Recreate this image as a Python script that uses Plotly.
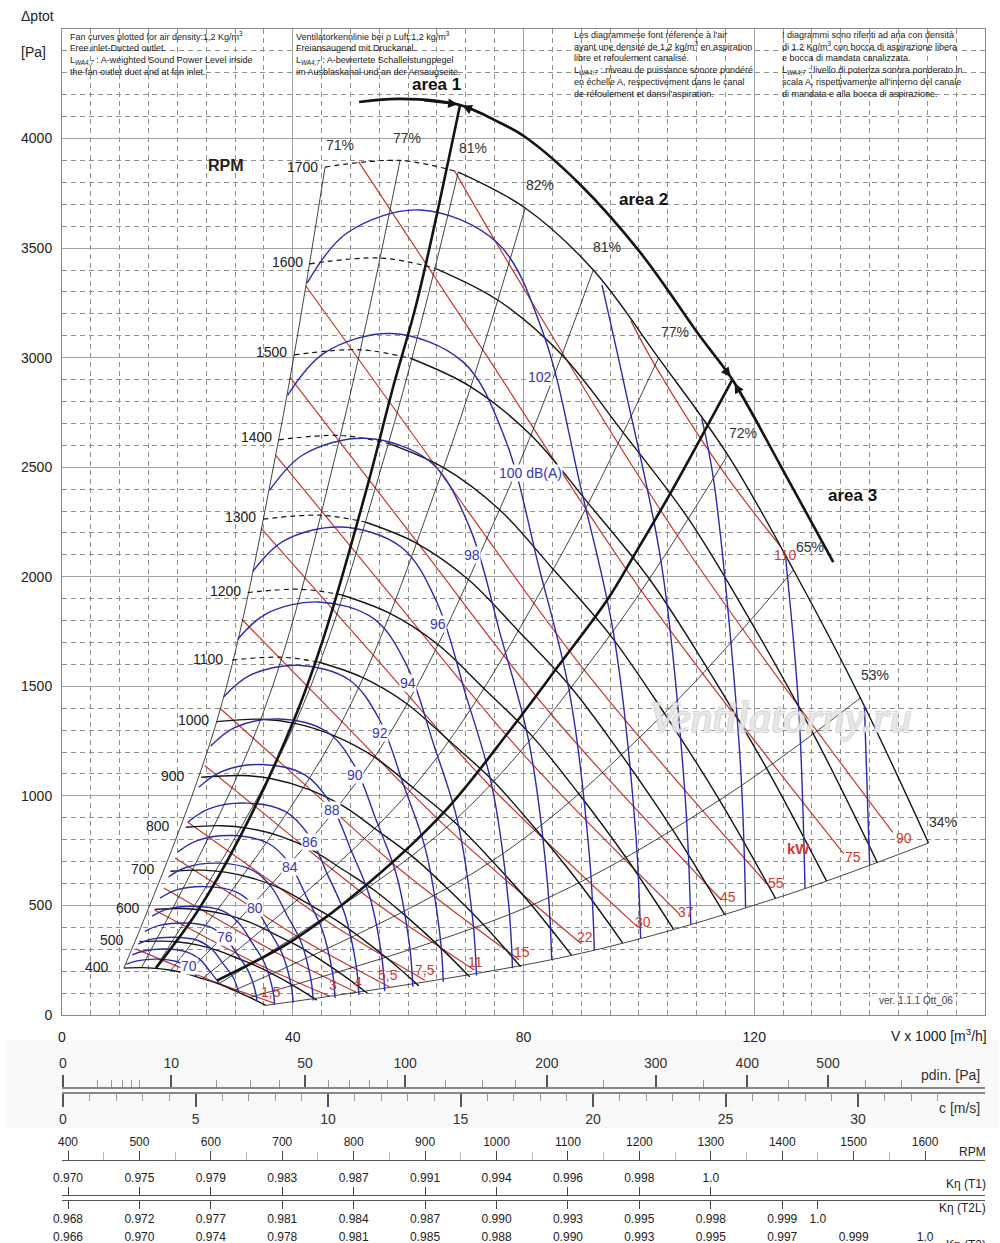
import plotly.graph_objects as go

# ---------------------------------------------------------------
# fan speed curves  (V in 1000 m3/h, dp tot in Pa)
rpm_speeds = [400, 500, 600, 700, 800, 900, 1000, 1100, 1200, 1300, 1400, 1500, 1600, 1700]
rpm_x = [
    [10.73, 13.79, 16.16, 18.89, 21.67, 24.33, 27.15, 29.84, 32.56, 35.34],
    [13.41, 17.23, 20.20, 23.62, 27.09, 30.41, 33.94, 37.29, 40.70, 44.17],
    [16.09, 20.68, 24.24, 28.34, 32.50, 36.49, 40.72, 44.75, 48.84, 53.00],
    [18.78, 24.13, 28.29, 33.07, 37.93, 42.58, 47.52, 52.22, 56.99, 61.85],
    [21.46, 27.58, 32.33, 37.79, 43.34, 48.66, 54.31, 59.67, 65.13, 70.68],
    [24.14, 31.02, 36.37, 42.51, 48.76, 54.74, 61.09, 67.13, 73.27, 79.52],
    [26.82, 34.47, 40.41, 47.23, 54.17, 60.82, 67.88, 74.58, 81.41, 88.35],
    [29.51, 37.92, 44.45, 51.96, 59.60, 66.91, 74.67, 82.05, 89.56, 97.19],
    [32.19, 41.37, 48.50, 56.68, 65.01, 72.99, 81.46, 89.51, 97.70, 106.02],
    [34.87, 44.81, 52.53, 61.41, 70.43, 79.07, 88.25, 96.96, 105.84, 114.86],
    [37.55, 48.26, 56.58, 66.13, 75.85, 85.15, 95.03, 104.42, 113.98, 123.69],
    [40.24, 51.71, 60.62, 70.86, 81.27, 91.24, 101.83, 111.89, 122.12, 132.54],
    [42.92, 55.15, 64.66, 75.58, 86.68, 97.32, 108.61, 119.34, 130.26, 141.36],
    [45.60, 58.60, 68.70, 80.30, 92.10, 103.40, 115.40, 126.80, 138.40, 150.20],
]
rpm_y = [
    [214, 216, 213, 204, 188, 166, 142, 112, 80, 44],
    [335, 337, 333, 319, 294, 259, 221, 176, 125, 68],
    [482, 486, 479, 459, 424, 374, 318, 253, 180, 98],
    [656, 661, 652, 624, 577, 509, 433, 344, 245, 133],
    [857, 864, 852, 816, 753, 664, 566, 450, 320, 174],
    [1085, 1093, 1078, 1032, 953, 841, 716, 569, 406, 220],
    [1339, 1350, 1331, 1274, 1177, 1038, 884, 703, 501, 272],
    [1620, 1633, 1611, 1542, 1424, 1256, 1070, 850, 606, 329],
    [1928, 1943, 1917, 1835, 1694, 1494, 1274, 1012, 721, 391],
    [2263, 2281, 2250, 2154, 1988, 1754, 1495, 1188, 846, 459],
    [2625, 2645, 2609, 2498, 2306, 2034, 1734, 1377, 981, 532],
    [3013, 3036, 2995, 2867, 2647, 2335, 1990, 1581, 1127, 611],
    [3428, 3455, 3408, 3262, 3012, 2657, 2264, 1799, 1282, 695],
    [3870, 3900, 3847, 3683, 3400, 2999, 2556, 2031, 1447, 785],
]
rpm_label_x = [6.07, 8.67, 11.45, 14.05, 16.65, 19.25, 22.72, 25.33, 28.27, 30.88, 33.65, 36.25, 39.03, 41.63]
rpm_label_y = [219, 342, 488, 666, 862, 1090, 1346, 1624, 1935, 2273, 2638, 3026, 3437, 3870]

# efficiency lines
eff_labels = ["71%", "77%", "81%", "82%", "81%", "77%", "72%", "65%", "53%", "34%"]
eff_x = [
    [10.73, 26.82, 37.55, 45.6],
    [13.79, 34.47, 48.26, 58.6],
    [16.16, 40.41, 56.58, 68.7],
    [18.89, 47.23, 66.13, 80.3],
    [21.67, 54.17, 75.85, 92.1],
    [24.33, 60.82, 85.15, 103.4],
    [27.15, 67.88, 95.03, 115.4],
    [29.84, 74.58, 104.42, 126.8],
    [32.56, 81.41, 113.98, 138.4],
    [35.34, 88.35, 123.69, 150.2],
]
eff_y = [
    [214, 1339, 2625, 3870],
    [216, 1350, 2645, 3900],
    [213, 1331, 2609, 3847],
    [204, 1274, 2498, 3683],
    [188, 1177, 2306, 3400],
    [166, 1038, 2034, 2999],
    [142, 884, 1734, 2556],
    [112, 703, 1377, 2031],
    [80, 501, 981, 1447],
    [44, 272, 532, 785],
]
eff_label_x = [48.2, 59.8, 71.3, 82.9, 94.5, 106.3, 118.0, 129.7, 141.0, 152.8]
eff_label_y = [3971, 4003, 3957, 3788, 3505, 3117, 2656, 2136, 1552, 881]

# sound power level curves, dB(A)
db_levels = [70, 72, 74, 76, 78, 80, 82, 84, 86, 88, 90, 92, 94, 96, 98, 100, 102, 104, 106, 108, 110]
db_x = [
    [11.19, 13.00, 16.34, 19.87, 21.95, 23.43],
    [12.16, 14.13, 17.77, 21.60, 23.86, 25.72, 27.38],
    [13.22, 15.36, 19.31, 23.48, 25.94, 27.96, 29.73, 30.63],
    [14.37, 16.70, 21.00, 25.53, 28.20, 30.40, 32.32, 33.61, 33.78],
    [15.62, 18.15, 22.82, 27.75, 30.65, 33.04, 35.13, 36.53, 36.86],
    [16.98, 19.74, 24.81, 30.16, 33.32, 35.92, 38.19, 39.71, 40.07],
    [18.45, 21.45, 26.96, 32.78, 36.21, 39.03, 41.51, 43.16, 43.55],
    [20.06, 23.32, 29.31, 35.64, 39.36, 42.43, 45.12, 46.92, 47.34],
    [21.81, 25.35, 31.86, 38.74, 42.79, 46.13, 49.05, 51.00, 51.46],
    [23.70, 27.55, 34.63, 42.11, 46.51, 50.14, 53.32, 55.44, 55.94],
    [25.77, 29.95, 37.65, 45.78, 50.57, 54.51, 57.96, 60.27, 60.81],
    [28.01, 32.55, 40.92, 49.75, 54.96, 59.24, 63.00, 65.50, 66.10],
    [30.44, 35.39, 44.48, 54.08, 59.74, 64.40, 68.48, 71.20, 71.85],
    [33.09, 38.46, 48.35, 58.78, 64.93, 70.00, 74.43, 77.39, 78.09],
    [35.97, 41.81, 52.56, 63.90, 70.59, 76.09, 80.92, 84.13, 84.89],
    [39.10, 45.45, 57.13, 69.46, 76.73, 82.71, 87.95, 91.45, 92.28],
    [42.50, 49.40, 62.10, 75.50, 83.40, 89.90, 95.60, 99.40, 100.30],
    [93.6, 97.7, 103.9, 108.0, 109.0],
    [110.9, 113.0, 117.5, 118.5],
    [125.4, 127.7, 128.8],
    [139.1, 140.0],
]
db_y = [
    [232, 247, 255, 244, 216, 174],
    [274, 292, 301, 288, 255, 197, 141],
    [323, 345, 355, 341, 301, 233, 169, 103],
    [382, 408, 420, 403, 356, 276, 199, 97, 64],
    [451, 482, 496, 476, 420, 326, 235, 115, 47],
    [533, 570, 586, 562, 497, 385, 278, 136, 56],
    [630, 673, 693, 664, 587, 454, 329, 160, 66],
    [744, 795, 819, 785, 694, 537, 388, 189, 78],
    [880, 940, 967, 928, 820, 635, 459, 224, 92],
    [1039, 1110, 1143, 1096, 968, 750, 542, 264, 109],
    [1228, 1312, 1351, 1295, 1144, 886, 641, 313, 129],
    [1451, 1550, 1596, 1530, 1352, 1047, 757, 369, 152],
    [1714, 1831, 1885, 1808, 1597, 1237, 894, 436, 180],
    [2025, 2164, 2227, 2136, 1887, 1461, 1057, 515, 213],
    [2394, 2557, 2632, 2524, 2230, 1727, 1249, 609, 252],
    [2828, 3021, 3110, 2982, 2635, 2040, 1475, 719, 297],
    [3341, 3569, 3674, 3523, 3113, 2410, 1743, 850, 351],
    [3332, 2848, 2060, 1004, 415],
    [2723, 2434, 1187, 490],
    [2096, 1402, 579],
    [1410, 684],
]
db_label_text = ["70", "76", "80", "84", "86", "88", "90", "92", "94", "96", "98", "100 dB(A)", "102"]
db_label_x = [22.0, 28.3, 33.5, 39.5, 43.0, 46.8, 50.8, 55.2, 60.0, 65.2, 71.1, 81.2, 82.9]
db_label_y = [224, 356, 488, 675, 790, 936, 1095, 1287, 1515, 1785, 2099, 2474, 2912]

# shaft power lines, kW
kw_labels = ["1,5", "3", "4", "5,5", "7,5", "11", "15", "22", "30", "37", "45", "55", "75", "90", "110"]
kw_x = [
    [12.73, 19.79, 27.26, 36.79],
    [16.03, 24.93, 34.35, 46.35],
    [17.65, 27.45, 37.82, 51.01],
    [19.63, 30.52, 42.04, 56.72],
    [21.76, 33.84, 46.61, 62.89],
    [24.73, 38.46, 52.97, 71.48],
    [27.42, 42.64, 58.73, 79.25],
    [31.15, 48.45, 66.72, 90.03],
    [34.54, 53.73, 73.98, 99.84],
    [37.05, 57.61, 79.34, 107.06],
    [39.54, 61.49, 84.68, 114.31],
    [42.28, 65.75, 90.55, 122.19],
    [51.40, 72.92, 100.43, 135.50],
    [68.00, 77.47, 106.72, 144.01],
    [98.60, 102.80, 114.10, 124.50],
]
kw_y = [
    [302, 224, 143, 54],
    [479, 355, 227, 86],
    [580, 430, 275, 104],
    [717, 532, 339, 129],
    [881, 654, 417, 159],
    [1139, 845, 539, 205],
    [1399, 1039, 662, 252],
    [1806, 1341, 855, 325],
    [2221, 1649, 1051, 400],
    [2554, 1896, 1208, 460],
    [2910, 2160, 1376, 525],
    [3327, 2469, 1574, 599],
    [3895, 3037, 1936, 737],
    [3855, 3428, 2186, 833],
    [3169, 2965, 2499, 2140],
]
kw_label_x = [36.2, 46.9, 51.3, 56.5, 63.0, 71.6, 79.8, 90.7, 100.8, 108.1, 115.5, 123.7, 137.2, 145.9, 125.4]
kw_label_y = [105, 137, 151, 183, 205, 242, 288, 356, 424, 470, 539, 602, 721, 808, 2099]

# working area limits (thick lines)
area1_x = [16.3, 23.4, 30.9, 40.2, 45.6, 52.9, 57.4, 61.6, 69.0]
area1_y = [215, 470, 815, 1346, 1743, 2410, 2866, 3263, 4153]
area2_x = [26.9, 40.1, 51.7, 66.1, 77.7, 85.9, 94.5, 99.0, 105.5, 116.2]
area2_y = [158, 342, 570, 922, 1301, 1588, 1894, 2090, 2383, 2900]
outer_x = [51.5, 58.6, 69.0, 76.0, 80.3, 89.9, 100.3, 110.7, 116.2, 124.5, 133.7]
outer_y = [4167, 4181, 4153, 4071, 4007, 3788, 3478, 3094, 2900, 2510, 2067]

# auxiliary scales under the chart
c_major = [0, 5, 10, 15, 20, 25, 30]
c_minor = [1, 2, 3, 4, 6, 7, 8, 9, 11, 12, 13, 14, 16, 17, 18, 19, 21, 22, 23, 24, 26, 27, 28, 29, 31, 32, 33]
pdin_major = [0, 10, 50, 100, 200, 300, 400, 500]
pdin_minor = [1, 2, 3, 4, 5, 20, 30, 40, 60, 70, 80, 90, 125, 150, 175, 250, 350, 450, 550, 600]
rpm_scale = [400, 500, 600, 700, 800, 900, 1000, 1100, 1200, 1300, 1400, 1500, 1600]
rpm_scale_minor = [450, 550, 650, 750, 850, 950, 1050, 1150, 1250, 1350, 1450, 1550]
k_t1_rpm = [400, 500, 600, 700, 800, 900, 1000, 1100, 1200, 1300]
k_t1 = ["0.970", "0.975", "0.979", "0.983", "0.987", "0.991", "0.994", "0.996", "0.998", "1.0"]
k_t2l_rpm = [400, 500, 600, 700, 800, 900, 1000, 1100, 1200, 1300, 1400, 1450]
k_t2l = ["0.968", "0.972", "0.977", "0.981", "0.984", "0.987", "0.990", "0.993", "0.995", "0.998", "0.999", "1.0"]
k_t2_rpm = [400, 500, 600, 700, 800, 900, 1000, 1100, 1200, 1300, 1400, 1500, 1600]
k_t2 = ["0.966", "0.970", "0.974", "0.978", "0.981", "0.985", "0.988", "0.990", "0.993", "0.995", "0.997", "0.999", "1.0"]

AIR_DENSITY = 1.2

BLACK = "#141414"
BLUE = "#2b2bab"
RED = "#c8362e"
FONT = "Liberation Sans, Arial, sans-serif"
NARROW = "Liberation Sans Narrow, Arial Narrow, Liberation Sans, sans-serif"

fig = go.Figure()


def line(xs, ys, color, width, dash="solid", axis="x"):
    fig.add_trace(go.Scatter(
        x=xs, y=ys, mode="lines", xaxis=axis, yaxis="y",
        line=dict(color=color, width=width, dash=dash, shape="spline", smoothing=1.0),
        hoverinfo="skip", showlegend=False))


for xs, ys in zip(kw_x, kw_y):
    line(xs, ys, RED, 1.2)
for xs, ys in zip(eff_x, eff_y):
    line(xs, ys, BLACK, 0.8)
for speed, xs, ys in zip(rpm_speeds, rpm_x, rpm_y):
    if speed >= 1100:
        line(xs[:3], ys[:3], BLACK, 1.2, dash="5px,4px")
        line(xs[2:], ys[2:], BLACK, 1.4)
    else:
        line(xs, ys, BLACK, 1.4)
for xs, ys in zip(db_x, db_y):
    line(xs, ys, BLUE, 1.4)
line(area1_x, area1_y, BLACK, 2.6)
line(area2_x, area2_y, BLACK, 2.6)
line(outer_x, outer_y, BLACK, 2.6)

# arrows where the limits meet
for hx, hy, tx, ty in [(68.6, 4156, 62.5, 4174), (69.4, 4150, 75.0, 4086),
                       (115.9, 2912, 111.5, 3064), (116.6, 2882, 121.5, 2655)]:
    fig.add_annotation(x=hx, y=hy, ax=tx, ay=ty, xref="x", yref="y", axref="x", ayref="y",
                       text="", showarrow=True, arrowhead=2, arrowsize=1.2,
                       arrowwidth=1.6, arrowcolor=BLACK)

# dummy traces so the auxiliary scales get drawn
for ax in ["x2", "x3", "x4", "x5", "x6", "x7"]:
    fig.add_trace(go.Scatter(x=[None], y=[None], xaxis=ax, yaxis="y",
                             hoverinfo="skip", showlegend=False))

# labels -------------------------------------------------------------
for t, x, y in zip(rpm_speeds, rpm_label_x, rpm_label_y):
    fig.add_annotation(x=x, y=y, text=str(t), showarrow=False,
                       font=dict(size=14, color="#222"))
for t, x, y in zip(eff_labels, eff_label_x, eff_label_y):
    fig.add_annotation(x=x, y=y, text=t, showarrow=False,
                       font=dict(size=14, color="#333"))
for t, x, y in zip(db_label_text, db_label_x, db_label_y):
    fig.add_annotation(x=x, y=y, text=t, showarrow=False, bgcolor="white", borderpad=0,
                       font=dict(size=14, color="#3636b8"))
for t, x, y in zip(kw_labels, kw_label_x, kw_label_y):
    fig.add_annotation(x=x, y=y, text=t, showarrow=False,
                       font=dict(size=14, color="#d03a32"))
fig.add_annotation(x=127.7, y=762, text="<b>kW</b>", showarrow=False,
                   font=dict(size=15, color="#d03a32"))

fig.add_annotation(x=28.4, y=3875, text="<b>RPM</b>", showarrow=False,
                   font=dict(size=16, color="#222"))
fig.add_annotation(x=64.9, y=4245, text="<b>area 1</b>", showarrow=False,
                   font=dict(size=17, color="#111"))
fig.add_annotation(x=100.8, y=3720, text="<b>area 2</b>", showarrow=False,
                   font=dict(size=17, color="#111"))
fig.add_annotation(x=137.0, y=2373, text="<b>area 3</b>", showarrow=False,
                   font=dict(size=17, color="#111"))
fig.add_annotation(x=148.0, y=68, text="ver. 1.1.1 Ott_06", showarrow=False,
                   font=dict(size=10, color="#444"))
fig.add_annotation(x=124.5, y=1356, text="Ventilatorny.ru", showarrow=False,
                   font=dict(size=44, color="rgba(255,255,255,0.55)",
                             family="Liberation Serif, serif", style="italic",
                             shadow="1px 1px 0 #c8c8c8, -1px -1px 0 #c8c8c8, 1px -1px 0 #c8c8c8, -1px 1px 0 #c8c8c8"))

notes = [
    (1.2, "Fan curves plotted for air density:1,2 Kg/m<sup>3</sup><br>Free inlet-Ducted outlet.<br>"
          "L<sub><i>WA4,7</i></sub> : A-weighted Sound Power Level inside<br>the fan outlet duct and at fan inlet."),
    (40.4, "Ventilatorkennlinie bei ρ Luft:1,2 kg/m<sup>3</sup><br>Freiansaugend mit Druckanal.<br>"
           "L<sub><i>WA4,7</i></sub> : A-bewertete Schalleistungpegel<br>im Ausblaskanal und an der Ansaugseite."),
    (88.5, "Les diagrammese font réference à l'air<br>ayant une densité de 1,2 kg/m<sup>3</sup> en aspiration<br>"
           "libre et refoulement canalisé.<br>L<sub><i>WA4;7</i></sub> : niveau de puissance sonore pondéré<br>"
           "en échelle A, respectivement dans le canal<br>de réfoulement et dans l'aspiration."),
    (124.6, "I diagrammi sono riferiti ad aria con densità<br>di 1,2 Kg/m<sup>3</sup> con bocca di aspirazione libera<br>"
            "e bocca di mandata canalizzata.<br>L<sub><i>WA4;7</i></sub> : livello di potenza sonora ponderato in<br>"
            "scala A, rispettivamente all'interno del canale<br>di mandata e alla bocca di aspirazione."),
]
for x, t in notes:
    fig.add_annotation(x=x, y=4498, text=t, showarrow=False, xanchor="left", yanchor="top",
                       align="left", borderpad=0, font=dict(size=9, color="#1a1a1a"))


def paper_label(x, y, text, size, anchor="right", family=FONT, color="#222"):
    fig.add_annotation(xref="paper", yref="paper", x=x, y=y, xanchor=anchor, yanchor="middle",
                       text=text, showarrow=False, font=dict(size=size, color=color, family=family))


paper_label(-0.047, 1.0107, "Δptot", 14, anchor="left")
paper_label(-0.047, 0.9810, "[Pa]", 14, anchor="left")
paper_label(1.004, 0.1713, "V x 1000 [m<sup>3</sup>/h]", 14)
paper_label(0.9967, 0.1384, "pdin. [Pa]", 14, color="#333")
paper_label(0.9967, 0.1112, "c [m/s]", 14, color="#333")
for t, yp in [("RPM", 0.0750), ("Kη (T1)", 0.0486), ("Kη (T2L)", 0.0290), ("Kη (T2)", -0.002)]:
    paper_label(1.003, yp, t, 12, family=NARROW)

fig.add_shape(type="rect", xref="paper", yref="paper", x0=-0.06, x1=1.015, y0=0.0947, y1=0.1672,
              fillcolor="#f9f9f9", line=dict(width=0), layer="below")

# axes -------------------------------------------------------------
c_range = [-0.038, 34.79]
rpm_range = [391.6, 1683.9]
pdin_pos = [(2 * p / AIR_DENSITY) ** 0.5 for p in pdin_major]
pdin_minor_pos = [(2 * p / AIR_DENSITY) ** 0.5 for p in pdin_minor]

fig.update_layout(
    width=1000, height=1243,
    margin=dict(l=62, r=15, t=29, b=0, autoexpand=False),
    paper_bgcolor="white", plot_bgcolor="white",
    showlegend=False,
    font=dict(family=FONT, color="#222"),
    xaxis=dict(
        domain=[0, 1], range=[0, 160], tickvals=[0, 40, 80, 120], ticks="", automargin=False,
        showgrid=True, gridcolor="#a3a3a3", gridwidth=1, zeroline=False,
        showline=True, mirror=True, linecolor="#8a8a8a", linewidth=1,
        tickfont=dict(size=14, color="#222"), ticklabelstandoff=9,
        minor=dict(tickvals=[v for v in range(5, 160, 5) if v % 40], showgrid=True,
                   gridcolor="#8f8f8f", gridwidth=0.8, griddash="5px,4px"),
    ),
    yaxis=dict(
        domain=[0.18781, 1], range=[0, 4500], tickvals=list(range(0, 4001, 500)), ticks="",
        automargin=False,
        showgrid=True, gridcolor="#a3a3a3", gridwidth=1, zeroline=False,
        showline=True, mirror=True, linecolor="#8a8a8a", linewidth=1,
        tickfont=dict(size=14, color="#222"), ticklabelstandoff=6,
        minor=dict(tickvals=[v for v in range(100, 4500, 100) if v % 500], showgrid=True,
                   gridcolor="#8f8f8f", gridwidth=0.8, griddash="5px,4px"),
    ),
    xaxis2=dict(  # c [m/s]
        overlaying="x", anchor="free", position=0.12356, side="bottom", range=c_range,
        automargin=False,
        tickvals=c_major, ticks="outside", ticklen=13, tickwidth=1.6, tickcolor="#555",
        showline=True, linecolor="#888", linewidth=1.5, showgrid=False, zeroline=False,
        tickfont=dict(size=14, color="#333"),
        minor=dict(tickvals=c_minor, ticks="outside", ticklen=7, tickcolor="#999", tickwidth=1),
    ),
    xaxis3=dict(  # dynamic pressure
        overlaying="x", anchor="free", position=0.12768, side="top", range=c_range,
        automargin=False,
        tickvals=pdin_pos, ticktext=[str(p) for p in pdin_major],
        ticks="outside", ticklen=12, tickwidth=1.6, tickcolor="#555",
        showline=True, linecolor="#888", linewidth=1.5, showgrid=False, zeroline=False,
        tickfont=dict(size=14, color="#333"), ticklabelstandoff=2,
        minor=dict(tickvals=pdin_minor_pos, ticks="outside", ticklen=7, tickcolor="#999", tickwidth=1),
    ),
    xaxis4=dict(  # RPM
        overlaying="x", anchor="free", position=0.06837, side="top", range=rpm_range,
        automargin=False,
        tickvals=rpm_scale, ticks="outside", ticklen=9, tickwidth=1, tickcolor="#444",
        showline=True, linecolor="#555", linewidth=1, showgrid=False, zeroline=False,
        tickfont=dict(size=12, color="#222", family=NARROW),
        minor=dict(tickvals=rpm_scale_minor, ticks="outside", ticklen=8, tickcolor="#bbb", tickwidth=1),
    ),
    xaxis5=dict(  # K eta T1
        overlaying="x", anchor="free", position=0.03954, side="top", range=rpm_range,
        automargin=False,
        tickvals=k_t1_rpm, ticktext=k_t1, ticks="outside", ticklen=8, tickwidth=1, tickcolor="#444",
        showline=True, linecolor="#555", linewidth=1, showgrid=False, zeroline=False,
        tickfont=dict(size=12, color="#222", family=NARROW),
    ),
    xaxis6=dict(  # K eta T2L
        overlaying="x", anchor="free", position=0.03542, side="bottom", range=rpm_range,
        automargin=False,
        tickvals=k_t2l_rpm, ticktext=k_t2l, ticks="outside", ticklen=8, tickwidth=1, tickcolor="#444",
        showline=True, linecolor="#555", linewidth=1, showgrid=False, zeroline=False,
        tickfont=dict(size=12, color="#222", family=NARROW),
    ),
    xaxis7=dict(  # K eta T2
        overlaying="x", anchor="free", position=0.0124, side="bottom", range=rpm_range,
        automargin=False,
        tickvals=k_t2_rpm, ticktext=k_t2, ticks="", showline=False, showgrid=False, zeroline=False,
        tickfont=dict(size=12, color="#222", family=NARROW),
    ),
)

# the page keeps the browser's default body margin otherwise
fig.write_html("out.html", config={"displayModeBar": False},
               post_script="document.body.style.margin='0';")
